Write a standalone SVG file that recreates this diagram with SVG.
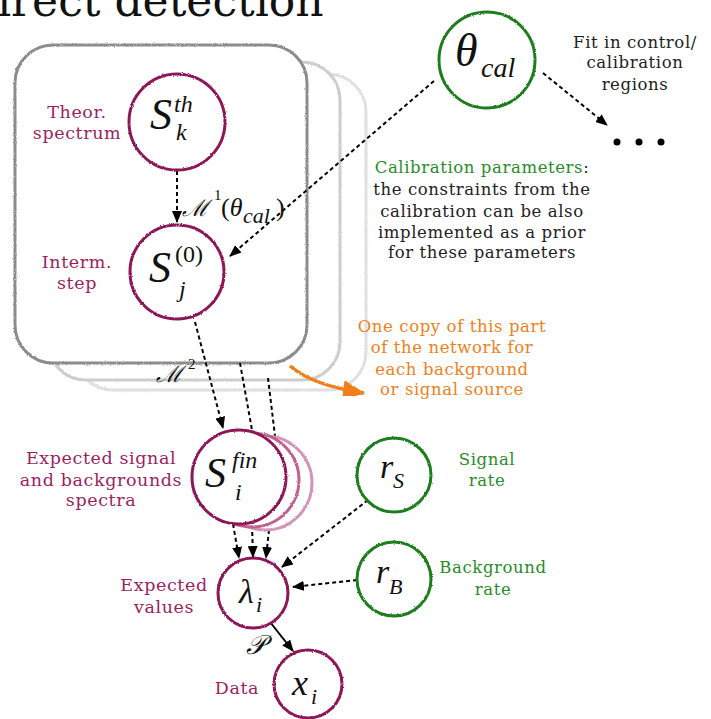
<svg xmlns="http://www.w3.org/2000/svg" width="711" height="719" viewBox="0 0 711 719">
<defs>
<filter id="rough" x="-10%" y="-10%" width="120%" height="120%">
<feTurbulence type="fractalNoise" baseFrequency="0.9" numOctaves="1" seed="3"/>
<feDisplacementMap in="SourceGraphic" scale="2.5" xChannelSelector="R" yChannelSelector="G"/>
</filter>
<marker id="ah" viewBox="0 0 12 10" refX="11" refY="5" markerWidth="12" markerHeight="10" markerUnits="userSpaceOnUse" orient="auto">
<path d="M0,0 L12,5 L0,10 Z" fill="#000"/>
</marker>
<marker id="oh" viewBox="0 0 22 20" refX="21" refY="10" markerWidth="22" markerHeight="20" markerUnits="userSpaceOnUse" orient="auto">
<path d="M0,0 L22,10 L0,20 Z" fill="#f07f1a"/>
</marker>
</defs>
<style>
.lbl{font-family:DejaVu Serif, Liberation Serif, serif;font-size:16.5px;letter-spacing:0.6px;text-anchor:middle}
.big{font-size:17.5px}
.mar{fill:#9b1f61}
.grn{fill:#2a8c2a}
.org{fill:#f07f1a}
.blk{fill:#222}
.m{font-family:Liberation Serif, DejaVu Serif, serif;font-style:italic;fill:#111}
.up{font-family:Liberation Serif, DejaVu Serif, serif;fill:#111}
.scr{font-family:DejaVu Serif, Liberation Serif, serif;font-style:italic;fill:#111}
.cm{fill:#fff;stroke:#8e1657;stroke-width:3;filter:url(#rough)}
.cg{fill:#fff;stroke:#1e7d1e;stroke-width:3;filter:url(#rough)}
.box{stroke-width:3;fill:#fff;filter:url(#rough)}
.dash{fill:none;stroke:#000;stroke-width:2;stroke-dasharray:4 3}
</style>
<text x="-3" y="16" font-family="DejaVu Serif, Liberation Serif, serif" font-size="44" fill="#111">irect detection</text>
<g id="plate">
<rect class="box" x="75" y="74" width="291" height="316" rx="38" stroke="#e0e0e0"/>
<rect class="box" x="48" y="62" width="292" height="318" rx="38" stroke="#cdcdcd"/>
<rect class="box" x="15" y="45" width="292" height="318" rx="38" stroke="#8c8c8c"/>
</g>
<g id="connectors">
<line class="dash" x1="177" y1="171" x2="177" y2="222" marker-end="url(#ah)"/>
<line class="dash" x1="434" y1="81" x2="230" y2="256" marker-end="url(#ah)"/>
<line class="dash" x1="543" y1="73" x2="607" y2="125" marker-end="url(#ah)"/>
<line class="dash" x1="195" y1="322" x2="223" y2="428" marker-end="url(#ah)"/>
<line class="dash" x1="240" y1="363" x2="252" y2="430"/>
<line class="dash" x1="268" y1="378" x2="275" y2="436"/>
<line class="dash" x1="233" y1="524" x2="239" y2="558" marker-end="url(#ah)"/>
<line class="dash" x1="252" y1="525" x2="253" y2="557" marker-end="url(#ah)"/>
<line class="dash" x1="269" y1="530" x2="266" y2="558" marker-end="url(#ah)"/>
<line class="dash" x1="368" y1="500" x2="282" y2="567" marker-end="url(#ah)"/>
<line class="dash" x1="357" y1="580" x2="293" y2="587" marker-end="url(#ah)"/>
<line x1="270" y1="622" x2="293" y2="651" stroke="#000" stroke-width="2" marker-end="url(#ah)"/>
<path d="M290,366 Q314,386 364,393" fill="none" stroke="#f07f1a" stroke-width="3.5" marker-end="url(#oh)" filter="url(#rough)"/>
</g>
<g id="n-sth">
<circle class="cm" cx="177" cy="122" r="48"/>
<text class="m" x="150" y="129" font-size="44">S</text>
<text class="m" x="174" y="112" font-size="24">th</text>
<text class="m" x="176" y="140" font-size="24">k</text>
</g>
<g id="n-s0">
<circle class="cm" cx="177" cy="272" r="47"/>
<text class="m" x="149" y="282" font-size="44">S</text>
<text class="up" x="175" y="262" font-size="24">(0)</text>
<text class="m" x="179" y="297" font-size="24">j</text>
</g>
<g id="n-theta">
<circle class="cg" cx="487" cy="60" r="48"/>
<text class="m" x="455" y="66" font-size="46">θ</text>
<text class="m" x="481" y="77" font-size="28">cal</text>
</g>
<g id="n-sfin">
<circle cx="265" cy="483" r="47" fill="#fff" stroke="#d494b8" stroke-width="3" filter="url(#rough)"/>
<circle cx="252" cy="480" r="47" fill="#fff" stroke="#c0608f" stroke-width="3" filter="url(#rough)"/>
<circle class="cm" cx="239" cy="477" r="47"/>
<text class="m" x="205" y="487" font-size="42">S</text>
<text class="m" x="232" y="468" font-size="24">fin</text>
<text class="m" x="235" y="500" font-size="24">i</text>
</g>
<g id="n-lambda">
<circle class="cm" cx="253" cy="593" r="35"/>
<text class="m" x="239" y="603" font-size="34">λ</text>
<text class="m" x="256" y="612" font-size="22">i</text>
</g>
<g id="n-x">
<circle class="cm" cx="308" cy="684" r="34"/>
<text class="m" x="292" y="695" font-size="36">x</text>
<text class="m" x="311" y="704" font-size="22">i</text>
</g>
<g id="n-rs">
<circle class="cg" cx="394" cy="475" r="37"/>
<text class="m" x="380" y="478" font-size="34">r</text>
<text class="m" x="393" y="488" font-size="22">S</text>
</g>
<g id="n-rb">
<circle class="cg" cx="394" cy="579" r="37"/>
<text class="m" x="376" y="583" font-size="34">r</text>
<text class="m" x="389" y="594" font-size="22">B</text>
</g>
<g id="dots">
<circle cx="617" cy="142" r="3.5" fill="#000"/>
<circle cx="639" cy="142" r="3.5" fill="#000"/>
<circle cx="661" cy="142" r="3.5" fill="#000"/>
</g>
<g id="edge-labels">
<text class="scr" x="182" y="216" font-size="23">ℳ</text>
<text class="up" x="214" y="200" font-size="15">1</text>
<text class="up" x="221" y="216" font-size="26">(<tspan font-style="italic">θ</tspan></text>
<text class="m" x="243" y="223" font-size="22">cal</text>
<text class="up" x="276" y="216" font-size="26">)</text>
<text class="scr" x="156" y="382" font-size="23">ℳ</text>
<text class="up" x="188" y="369" font-size="15">2</text>
<text class="scr" x="246" y="654" font-size="27">𝒫</text>
</g>
<g id="labels">
<text class="lbl big mar" x="77" y="118">Theor.</text>
<text class="lbl big mar" x="77" y="139">spectrum</text>
<text class="lbl big mar" x="77" y="268">Interm.</text>
<text class="lbl big mar" x="77" y="289">step</text>
<text class="lbl big mar" x="101" y="464">Expected signal</text>
<text class="lbl big mar" x="101" y="486">and backgrounds</text>
<text class="lbl big mar" x="101" y="506">spectra</text>
<text class="lbl big mar" x="164" y="591">Expected</text>
<text class="lbl big mar" x="164" y="613">values</text>
<text class="lbl big mar" x="237" y="694">Data</text>
<text class="lbl grn" x="487" y="465">Signal</text>
<text class="lbl grn" x="487" y="486">rate</text>
<text class="lbl grn" x="493" y="573">Background</text>
<text class="lbl grn" x="493" y="595">rate</text>
<text class="lbl blk" x="635" y="48">Fit in control/</text>
<text class="lbl blk" x="635" y="68">calibration</text>
<text class="lbl blk" x="635" y="90">regions</text>
<text class="lbl blk" x="482" y="173"><tspan class="grn">Calibration parameters</tspan>:</text>
<text class="lbl blk" x="482" y="195">the constraints from the</text>
<text class="lbl blk" x="482" y="217">calibration can be also</text>
<text class="lbl blk" x="482" y="238">implemented as a prior</text>
<text class="lbl blk" x="482" y="258">for these parameters</text>
<text class="lbl org" x="452" y="332">One copy of this part</text>
<text class="lbl org" x="452" y="353">of the network for</text>
<text class="lbl org" x="452" y="375">each background</text>
<text class="lbl org" x="452" y="395">or signal source</text>
</g>
</svg>
